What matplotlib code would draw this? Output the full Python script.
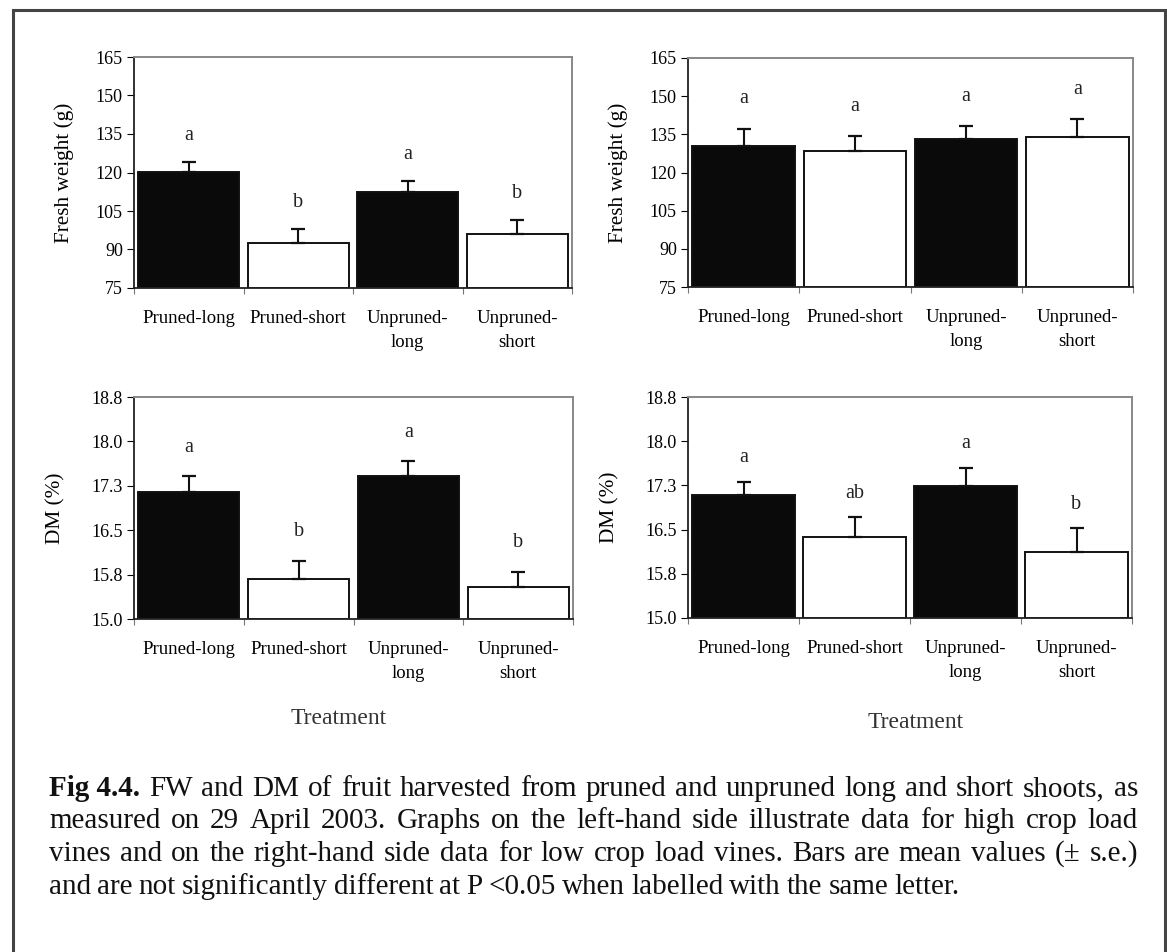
import matplotlib
matplotlib.use("Agg")
import matplotlib.pyplot as plt
import numpy as np
from matplotlib.patches import Rectangle

plt.rcParams['font.family'] = ['Liberation Serif', 'DejaVu Serif']

categories = ["Pruned-long", "Pruned-short", "Unpruned-\nlong", "Unpruned-\nshort"]
bar_colors = ["#0a0a0a", "white", "#0a0a0a", "white"]

# High crop load (left) / low crop load (right)
fw_high = [120.1, 92.7, 112.5, 96.2]
fw_high_se = [3.8, 5.2, 4.2, 5.2]
fw_high_letters = ["a", "b", "a", "b"]

fw_low = [130.6, 128.5, 133.0, 134.1]
fw_low_se = [6.6, 5.8, 5.3, 7.0]
fw_low_letters = ["a", "a", "a", "a"]

dm_high = [17.18, 15.69, 17.44, 15.55]
dm_high_se = [0.26, 0.31, 0.26, 0.26]
dm_high_letters = ["a", "b", "a", "b"]

dm_low = [17.11, 16.40, 17.27, 16.13]
dm_low_se = [0.23, 0.33, 0.31, 0.41]
dm_low_letters = ["a", "ab", "a", "b"]

fw_ticks = [75, 90, 105, 120, 135, 150, 165]
dm_ticks = list(np.linspace(15.0, 18.8, 6))

caption_lines = [
    ("Fig 4.4.", "  FW and DM of fruit harvested from pruned and unpruned long and short shoots, as"),
    ("", "measured on 29 April 2003.  Graphs on the left-hand side illustrate data for high crop load"),
    ("", "vines and on the right-hand side data for low crop load vines.  Bars are mean values (± s.e.)"),
    ("", "and are not significantly different at P <0.05 when labelled with the same letter."),
]

W, H = 1167, 952
fig = plt.figure(figsize=(W / 100, H / 100), dpi=100)

# outer frame
fig.add_artist(Rectangle((13 / W, -0.02), (1165 - 13) / W, 1.02 - 10 / H,
                         transform=fig.transFigure, fill=False,
                         edgecolor="#444444", linewidth=2.2))


def axes_px(x0, x1, y0, y1):
    return fig.add_axes([x0 / W, 1 - y1 / H, (x1 - x0) / W, (y1 - y0) / H])


def panel(ax, vals, se, letters, ticks, ylabel, fmt, letter_off, ylabelpad):
    x = np.arange(len(vals))
    lo, hi = ticks[0], ticks[-1]
    ax.bar(x, np.array(vals) - lo, bottom=lo, width=0.92, color=bar_colors,
           edgecolor="#111111", linewidth=1.4, zorder=2)
    ax.errorbar(x, vals, yerr=[np.zeros(len(se)), se], fmt="none",
                ecolor="#111111", elinewidth=1.5, capsize=4.7, capthick=1.6, zorder=3)
    for xi, v, s, l in zip(x, vals, se, letters):
        ax.text(xi, v + s + letter_off * (hi - lo), l, ha="center", va="center",
                fontsize=14.5, color="#222222")
    ax.set_xlim(-0.5, len(vals) - 0.5)
    ax.set_ylim(lo, hi)
    ax.set_yticks(ticks)
    ax.set_yticklabels([fmt.format(t) for t in ticks], fontsize=13)
    ax.set_xticks(np.arange(-0.5, len(vals)), labels=[""] * (len(vals) + 1))
    ax.set_xticks(x, labels=categories, minor=True, fontsize=13.5)
    for lab in ax.get_xticklabels(minor=True):
        lab.set_linespacing(1.55)
    ax.tick_params(axis="x", which="major", length=4, direction="out", color="#777777")
    ax.tick_params(axis="x", which="minor", length=0, pad=16)
    ax.tick_params(axis="y", length=5, direction="out", pad=3)
    for side in ("top", "right"):
        ax.spines[side].set_color("#888888")
        ax.spines[side].set_linewidth(1.4)
    for side in ("left", "bottom"):
        ax.spines[side].set_color("#222222")
        ax.spines[side].set_linewidth(1.3)
    ax.set_ylabel(ylabel, fontsize=15.3, labelpad=ylabelpad)


ax1 = axes_px(134, 572, 57, 288)
panel(ax1, fw_high, fw_high_se, fw_high_letters, fw_ticks, "Fresh weight (g)", "{:.0f}", 0.115, 16)
ax2 = axes_px(688, 1133, 58, 287)
panel(ax2, fw_low, fw_low_se, fw_low_letters, fw_ticks, "Fresh weight (g)", "{:.0f}", 0.13, 16)
ax3 = axes_px(134, 573, 397, 619)
panel(ax3, dm_high, dm_high_se, dm_high_letters, dm_ticks, "DM (%)", "{:.1f}", 0.13, 19)
ax4 = axes_px(688, 1132, 397, 618)
panel(ax4, dm_low, dm_low_se, dm_low_letters, dm_ticks, "DM (%)", "{:.1f}", 0.11, 19)

fig.text(339 / W, 1 - 719 / H, "Treatment", ha="center", va="center", fontsize=17, color="#333333")
fig.text(916 / W, 1 - 722 / H, "Treatment", ha="center", va="center", fontsize=17, color="#333333")

# caption, justified lines
x_left, x_right = 49, 1138
line_y = [789, 821, 854, 887]
fig.canvas.draw()
renderer = fig.canvas.get_renderer()
for i, ((bold, rest), yy) in enumerate(zip(caption_lines, line_y)):
    yf = 1 - yy / H
    words = []
    if bold:
        words.append((bold, "bold"))
    words += [(w, "normal") for w in rest.split()]
    arts = [fig.text(0, yf, w, fontsize=21, fontweight=fw, va="center", ha="left", color="#111111")
            for w, fw in words]
    widths = [a.get_window_extent(renderer).width for a in arts]
    if i < len(caption_lines) - 1:
        gap = (x_right - x_left - sum(widths)) / (len(arts) - 1)
    else:
        gap = 6.0
    xx = x_left
    for a, w in zip(arts, widths):
        a.set_x(xx / W)
        xx += w + gap

fig.savefig("out.png", dpi=100, facecolor="white")
